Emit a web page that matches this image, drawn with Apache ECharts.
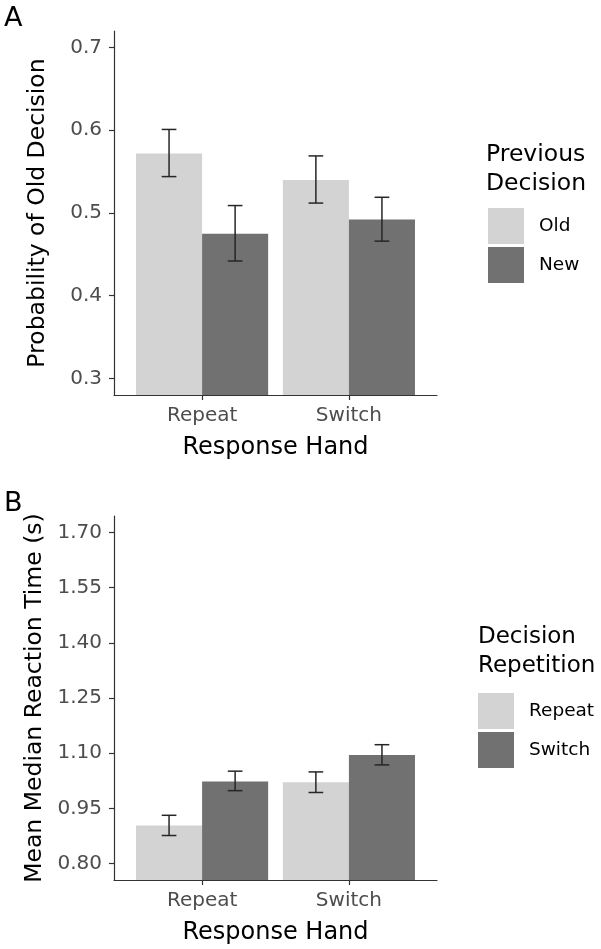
<!DOCTYPE html>
<html>
<head>
<meta charset="utf-8">
<script src="https://cdn.jsdelivr.net/npm/echarts@6/dist/echarts.min.js"></script>
<style>
  html, body { margin: 0; padding: 0; background: #fff; }
  #chart { width: 601px; height: 949px; }
</style>
</head>
<body>
<div id="chart"></div>
<script>
// response hand categories (x axis)
var handCats = ['Repeat', 'Switch'];

// panel A: probability of "old" decision, split by previous decision
var prevOldMean = [0.572, 0.540];
var prevOldLo = [0.544, 0.512];
var prevOldHi = [0.601, 0.569];
var prevNewMean = [0.475, 0.492];
var prevNewLo = [0.442, 0.466];
var prevNewHi = [0.509, 0.519];
var ticksA = [0.3, 0.4, 0.5, 0.6, 0.7];

// panel B: mean median RT, split by decision repetition
var repMean = [0.903, 1.021];
var repLo = [0.876, 0.993];
var repHi = [0.931, 1.049];
var swMean = [1.023, 1.095];
var swLo = [0.998, 1.068];
var swHi = [1.051, 1.123];
var ticksB = [0.80, 0.95, 1.10, 1.25, 1.40, 1.55, 1.70];

var LIGHT = '#d3d3d3';
var DARK = '#717171';
var FONT = 'DejaVu Sans';

// dodge offsets like ggplot (bar width 0.9 split in two)
var half = 0.225;
var capHalf = 0.05;

function rows(mean, lo, hi, shift) {
    return mean.map(function (m, i) {
        return [i + 1 + shift, m, lo[i], hi[i]];
    });
}

function renderBar(params, api) {
    var x = api.value(0);
    var m = api.value(1);
    var lo = api.value(2);
    var hi = api.value(3);
    var cs = params.coordSys;
    var bottom = cs.y + cs.height;
    var tl = api.coord([x - half, m]);
    var tr = api.coord([x + half, m]);
    var pHi = api.coord([x, hi]);
    var pLo = api.coord([x, lo]);
    var cl = api.coord([x - capHalf, hi])[0];
    var cr = api.coord([x + capHalf, hi])[0];
    var lineStyle = { stroke: '#262626', lineWidth: 1.5 };
    return {
        type: 'group',
        children: [
            { type: 'rect', shape: { x: tl[0], y: tl[1], width: tr[0] - tl[0], height: bottom - tl[1] },
              style: { fill: api.visual('color') } },
            { type: 'line', shape: { x1: pHi[0], y1: pHi[1], x2: pLo[0], y2: pLo[1] }, style: lineStyle },
            { type: 'line', shape: { x1: cl, y1: pHi[1], x2: cr, y2: pHi[1] }, style: lineStyle },
            { type: 'line', shape: { x1: cl, y1: pLo[1], x2: cr, y2: pLo[1] }, style: lineStyle }
        ]
    };
}

function xAxisFor(gi) {
    return {
        gridIndex: gi,
        type: 'value',
        min: 0.4,
        max: 2.6,
        splitLine: { show: false },
        axisLine: { show: true, lineStyle: { color: '#333', width: 1.2 } },
        axisTick: { show: true, customValues: [1, 2], length: 5, lineStyle: { color: '#333', width: 1.2 } },
        axisLabel: {
            customValues: [1, 2],
            formatter: function (v) { return handCats[Math.round(v) - 1]; },
            color: '#4d4d4d', fontSize: 20, margin: 11, fontFamily: FONT
        },
        name: 'Response Hand',
        nameLocation: 'middle',
        nameGap: 41,
        nameTextStyle: { fontSize: 24, color: '#000', fontFamily: FONT }
    };
}

function yAxisFor(gi, min, max, ticks, digits, title) {
    return {
        gridIndex: gi,
        type: 'value',
        min: min,
        max: max,
        splitLine: { show: false },
        axisLine: { show: true, lineStyle: { color: '#333', width: 1.2 } },
        axisTick: { show: true, customValues: ticks, length: 5, lineStyle: { color: '#333', width: 1.2 } },
        axisLabel: {
            customValues: ticks,
            formatter: function (v) { return v.toFixed(digits); },
            color: '#4d4d4d', fontSize: 20, margin: 12, fontFamily: FONT
        },
        name: title,
        nameLocation: 'middle',
        nameGap: 64,
        nameTextStyle: { fontSize: 23.5, color: '#000', fontFamily: FONT }
    };
}

function legendFor(names, top) {
    return {
        data: names,
        orient: 'vertical',
        left: 0,
        top: top,
        icon: 'rect',
        itemWidth: 36,
        itemHeight: 36,
        itemGap: 3,
        selectedMode: false,
        padding: 0,
        textStyle: { fontSize: 18.5, color: '#000', fontFamily: FONT, padding: [0, 0, 0, 10] }
    };
}

var chart = echarts.init(document.getElementById('chart'), null, { renderer: 'canvas' });

var option = {
    animation: false,
    textStyle: { fontFamily: FONT },
    title: [
        { text: 'A', left: 4, top: 5, padding: 0, textStyle: { fontSize: 27, fontWeight: 'normal', color: '#000', fontFamily: FONT } },
        { text: 'B', left: 4, top: 490, padding: 0, textStyle: { fontSize: 27, fontWeight: 'normal', color: '#000', fontFamily: FONT } },
        { text: 'Previous\nDecision', left: 486, top: 140, padding: 0,
          textStyle: { fontSize: 23.5, lineHeight: 29, fontWeight: 'normal', color: '#000', fontFamily: FONT } },
        { text: 'Decision\nRepetition', left: 478, top: 623, padding: 0,
          textStyle: { fontSize: 23, lineHeight: 29, fontWeight: 'normal', color: '#000', fontFamily: FONT } }
    ],
    legend: [
        Object.assign(legendFor(['Old', 'New'], 208), { left: 488 }),
        Object.assign(legendFor(['Repeat', 'Switch'], 693), { left: 478 })
    ],
    grid: [
        { left: 114, top: 31, width: 323, height: 364 },
        { left: 114, top: 516, width: 323, height: 364 }
    ],
    xAxis: [xAxisFor(0), xAxisFor(1)],
    yAxis: [
        yAxisFor(0, 0.28, 0.72, ticksA, 1, 'Probability of Old Decision'),
        yAxisFor(1, 0.755, 1.745, ticksB, 2, 'Mean Median Reaction Time (s)')
    ],
    series: [
        { type: 'custom', name: 'Old', xAxisIndex: 0, yAxisIndex: 0, renderItem: renderBar,
          itemStyle: { color: LIGHT }, encode: { x: 0, y: 1 }, data: rows(prevOldMean, prevOldLo, prevOldHi, -half) },
        { type: 'custom', name: 'New', xAxisIndex: 0, yAxisIndex: 0, renderItem: renderBar,
          itemStyle: { color: DARK }, encode: { x: 0, y: 1 }, data: rows(prevNewMean, prevNewLo, prevNewHi, half) },
        { type: 'custom', name: 'Repeat', xAxisIndex: 1, yAxisIndex: 1, renderItem: renderBar,
          itemStyle: { color: LIGHT }, encode: { x: 0, y: 1 }, data: rows(repMean, repLo, repHi, -half) },
        { type: 'custom', name: 'Switch', xAxisIndex: 1, yAxisIndex: 1, renderItem: renderBar,
          itemStyle: { color: DARK }, encode: { x: 0, y: 1 }, data: rows(swMean, swLo, swHi, half) }
    ]
};

chart.setOption(option);
</script>
</body>
</html>
